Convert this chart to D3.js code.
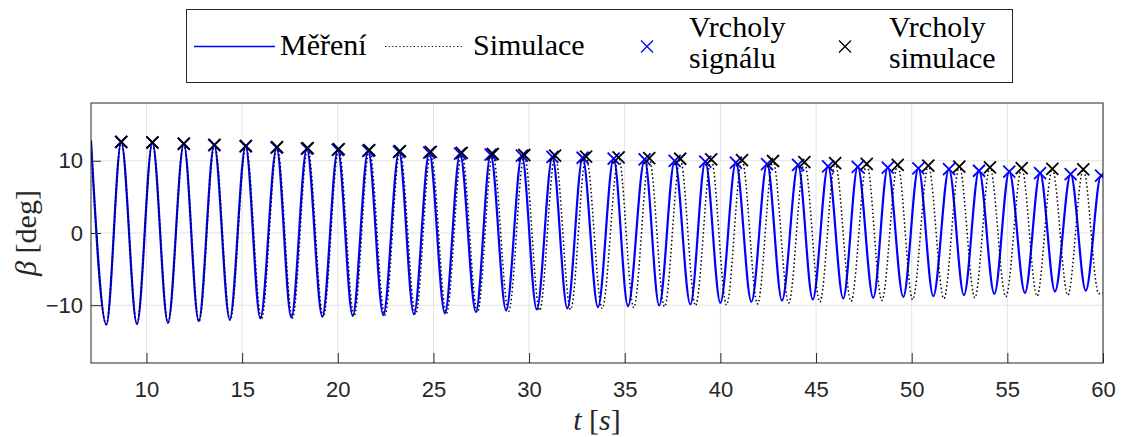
<!DOCTYPE html>
<html>
<head>
<meta charset="utf-8">
<script src="https://cdn.jsdelivr.net/npm/d3@7"></script>
<style>
    body { margin: 0; background: #fff; }
    svg { display: block; }
</style>
</head>
<body>
<script>
// measured signal (Měření): start, troughs, peaks, end
const measStart = [7.1, 12.8];
const measEnd = [60, 7.9];
const measPeakT = [8.68, 10.31, 11.95, 13.54, 15.18, 16.8, 18.38, 20.0, 21.59, 23.2, 24.78, 26.39, 27.99, 29.62, 31.22, 32.8,
    34.42, 36.04, 37.61, 39.21, 40.81, 42.44, 44.06, 45.63, 47.18, 48.75, 50.35, 51.95, 53.52, 55.1, 56.71, 58.31, 59.9];
const measPeakV = [12.6, 12.52, 12.35, 12.17, 12.0, 11.82, 11.68, 11.52, 11.38, 11.24, 11.12, 10.98, 10.84, 10.7, 10.55, 10.42,
    10.3, 10.18, 10.0, 9.88, 9.74, 9.55, 9.42, 9.22, 9.15, 9.05, 8.95, 8.83, 8.62, 8.5, 8.3, 8.16, 7.95];
const measTroughT = [7.9, 9.5, 11.12, 12.73, 14.35, 15.95, 17.57, 19.19, 20.78, 22.38, 23.98, 25.6, 27.22, 28.8, 30.4, 32.0,
    33.6, 35.17, 36.8, 38.43, 40.0, 41.62, 43.22, 44.83, 46.42, 47.99, 49.56, 51.13, 52.73, 54.32, 55.92, 57.49, 59.1];
const measTroughV = [-12.7, -12.6, -12.45, -12.2, -11.98, -11.8, -11.68, -11.58, -11.48, -11.37, -11.27, -11.13, -10.92, -10.74, -10.58, -10.44,
    -10.27, -10.12, -10.03, -9.89, -9.68, -9.52, -9.36, -9.2, -9.05, -8.97, -8.85, -8.74, -8.61, -8.42, -8.28, -8.08, -7.97];

// simulation (Simulace)
const simStart = [7.1, 12.8];
const simEnd = [60, -8.3];
const simPeakT = [8.68, 10.31, 11.95, 13.56, 15.2, 16.83, 18.43, 20.05, 21.65, 23.25, 24.86, 26.48, 28.1, 29.75, 31.36, 32.98,
    34.68, 36.28, 37.9, 39.52, 41.13, 42.75, 44.39, 46.0, 47.65, 49.27, 50.87, 52.49, 54.09, 55.75, 57.35, 58.97];
const simPeakV = [12.63, 12.55, 12.38, 12.2, 12.05, 11.9, 11.75, 11.6, 11.49, 11.33, 11.22, 11.08, 10.94, 10.8, 10.71, 10.57,
    10.48, 10.36, 10.28, 10.18, 10.08, 9.97, 9.82, 9.68, 9.56, 9.44, 9.33, 9.2, 9.08, 8.98, 8.88, 8.8];
const simTroughT = [7.9, 9.5, 11.13, 12.75, 14.38, 16.01, 17.63, 19.24, 20.85, 22.46, 24.07, 25.68, 27.3, 28.93, 30.55, 32.17,
    33.82, 35.47, 37.08, 38.7, 40.32, 41.94, 43.57, 45.2, 46.83, 48.44, 50.05, 51.68, 53.3, 54.92, 56.55, 58.16, 59.78];
const simTroughV = [-12.65, -12.58, -12.42, -12.25, -12.08, -11.92, -11.78, -11.62, -11.5, -11.38, -11.25, -11.12, -10.98, -10.85, -10.72, -10.6,
    -10.45, -10.32, -10.2, -10.05, -9.95, -9.82, -9.68, -9.55, -9.45, -9.34, -9.22, -9.08, -8.97, -8.82, -8.72, -8.6, -8.4];

const xTicks = [10, 15, 20, 25, 30, 35, 40, 45, 50, 55, 60];
const yTicks = [-10, 0, 10];
const legendLabels = [['Měření'], ['Simulace'], ['Vrcholy', 'signálu'], ['Vrcholy', 'simulace']];

const width = 1124;
const height = 437;
const margin = { top: 103, right: 21, bottom: 74, left: 91 };
const axisColor = '#262626';
const serif = '"Liberation Serif", "Times New Roman", serif';
const sans = 'Arial, "Liberation Sans", sans-serif';

const toPoints = (start, pT, pV, tT, tV, end) => {
    const pts = [{ t: start[0], v: start[1] }];
    pT.forEach((t, i) => pts.push({ t, v: pV[i] }));
    tT.forEach((t, i) => pts.push({ t, v: tV[i] }));
    pts.push({ t: end[0], v: end[1] });
    return pts.sort((a, b) => a.t - b.t);
};

const svg = d3.select('body')
    .append('svg')
    .attr('width', width)
    .attr('height', height);

const x = d3.scaleLinear()
    .domain([7.1, 60])
    .range([margin.left, width - margin.right]);

const y = d3.scaleLinear()
    .domain([-18, 18])
    .range([height - margin.bottom, margin.top]);

const plotW = x.range()[1] - x.range()[0];
const plotH = y.range()[0] - y.range()[1];

svg.append('defs')
    .append('clipPath')
    .attr('id', 'clip')
    .append('rect')
    .attr('x', margin.left)
    .attr('y', margin.top)
    .attr('width', plotW)
    .attr('height', plotH);

// grid
const grid = svg.append('g').attr('stroke', '#e3e3e3').attr('stroke-width', 1);
grid.selectAll('.gx')
    .data(xTicks)
    .join('line')
    .attr('x1', d => x(d)).attr('x2', d => x(d))
    .attr('y1', y.range()[1]).attr('y2', y.range()[0]);
grid.selectAll('.gy')
    .data(yTicks)
    .join('line')
    .attr('y1', d => y(d)).attr('y2', d => y(d))
    .attr('x1', x.range()[0]).attr('x2', x.range()[1]);

const line = d3.line()
    .x(d => x(d.t))
    .y(d => y(d.v))
    .curve(d3.curveMonotoneX);

const plot = svg.append('g').attr('clip-path', 'url(#clip)');

plot.append('path')
    .datum(toPoints(measStart, measPeakT, measPeakV, measTroughT, measTroughV, measEnd))
    .attr('d', line)
    .attr('fill', 'none')
    .attr('stroke', '#0000ff')
    .attr('stroke-width', 2.2);

plot.append('path')
    .datum(toPoints(simStart, simPeakT, simPeakV, simTroughT, simTroughV, simEnd))
    .attr('d', line)
    .attr('fill', 'none')
    .attr('stroke', '#000')
    .attr('stroke-width', 1.5)
    .attr('stroke-dasharray', '1.5,2.5');

const cross = s => `M${-s},${-s}L${s},${s}M${-s},${s}L${s},${-s}`;

plot.selectAll('.mpk')
    .data(measPeakT.map((t, i) => ({ t, v: measPeakV[i] })))
    .join('path')
    .attr('transform', d => `translate(${x(d.t)},${y(d.v)})`)
    .attr('d', cross(6))
    .attr('stroke', '#0000ff')
    .attr('stroke-width', 1.8);

plot.selectAll('.spk')
    .data(simPeakT.map((t, i) => ({ t, v: simPeakV[i] })))
    .join('path')
    .attr('transform', d => `translate(${x(d.t)},${y(d.v)})`)
    .attr('d', cross(6))
    .attr('stroke', '#000')
    .attr('stroke-width', 1.8);

// axes
const xAxis = svg.append('g')
    .attr('transform', `translate(0,${y.range()[0]})`)
    .call(d3.axisBottom(x).tickValues(xTicks).tickSize(-10).tickSizeOuter(0).tickPadding(18));

const yAxis = svg.append('g')
    .attr('transform', `translate(${x.range()[0]},0)`)
    .call(d3.axisLeft(y).tickValues(yTicks).tickSize(-10).tickSizeOuter(0).tickPadding(8));

[xAxis, yAxis].forEach(g => {
    g.select('.domain').remove();
    g.selectAll('line').attr('stroke', axisColor);
    g.selectAll('text')
        .attr('fill', axisColor)
        .style('font-family', sans)
        .style('font-size', '22px');
});

svg.append('rect')
    .attr('x', x.range()[0])
    .attr('y', y.range()[1])
    .attr('width', plotW)
    .attr('height', plotH)
    .attr('fill', 'none')
    .attr('stroke', axisColor)
    .attr('stroke-width', 1);

// axis labels
const xLabel = svg.append('text')
    .attr('x', 597)
    .attr('y', 430)
    .attr('text-anchor', 'middle')
    .attr('fill', axisColor)
    .style('font-family', serif)
    .style('font-size', '30px');
xLabel.append('tspan').style('font-style', 'italic').text('t');
xLabel.append('tspan').text(' [');
xLabel.append('tspan').style('font-style', 'italic').text('s');
xLabel.append('tspan').text(']');

const yLabel = svg.append('text')
    .attr('transform', `translate(36,${y(0)}) rotate(-90)`)
    .attr('text-anchor', 'middle')
    .attr('fill', axisColor)
    .style('font-family', serif)
    .style('font-size', '30px');
yLabel.append('tspan').style('font-style', 'italic').text('β');
yLabel.append('tspan').text(' [deg]');

// legend
const legend = svg.append('g');
legend.append('rect')
    .attr('x', 186.5)
    .attr('y', 9.5)
    .attr('width', 826)
    .attr('height', 73)
    .attr('fill', '#fff')
    .attr('stroke', axisColor)
    .attr('stroke-width', 1);

const legendY = 46.5;
const legendItems = [
    { x1: 194, x2: 275, tx: 280, type: 'line', color: '#0000ff', dash: null, width: 1.6 },
    { x1: 385, x2: 463, tx: 473, type: 'line', color: '#000', dash: '1.2,2.4', width: 1.2 },
    { x1: 647, tx: 689, type: 'mark', color: '#0000ff' },
    { x1: 845, tx: 889, type: 'mark', color: '#000' }
];

legendItems.forEach((item, i) => {
    if (item.type === 'line') {
        legend.append('line')
            .attr('x1', item.x1).attr('x2', item.x2)
            .attr('y1', legendY).attr('y2', legendY)
            .attr('stroke', item.color)
            .attr('stroke-width', item.width)
            .attr('stroke-dasharray', item.dash);
    } else {
        legend.append('path')
            .attr('transform', `translate(${item.x1},${legendY})`)
            .attr('d', cross(6))
            .attr('stroke', item.color)
            .attr('stroke-width', 1.3);
    }
    const lines = legendLabels[i];
    const t = legend.append('text')
        .attr('fill', '#000')
        .style('font-family', serif)
        .style('font-size', '30px');
    if (lines.length === 1) {
        t.append('tspan').attr('x', item.tx).attr('y', 55).text(lines[0]);
    } else {
        t.append('tspan').attr('x', item.tx).attr('y', 36.5).text(lines[0]);
        t.append('tspan').attr('x', item.tx).attr('y', 67.5).text(lines[1]);
    }
});
</script>
</body>
</html>
